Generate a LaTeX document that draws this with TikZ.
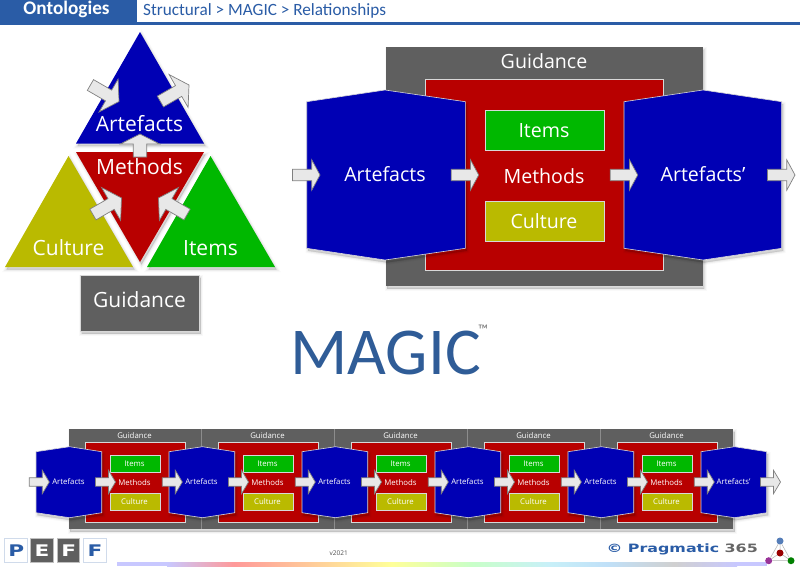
\documentclass[tikz,border=0pt]{standalone}
\usepackage{fontspec}
\setmainfont{Carlito}
\newfontfamily\lab{Open Sans}
\newfontfamily\heavy{DejaVu Sans}
\usetikzlibrary{calc}
\definecolor{hdr}{HTML}{2A5CA6}
\definecolor{mgc}{HTML}{2F5C97}
\definecolor{cblue}{HTML}{0000B4}
\definecolor{cred}{HTML}{B80000}
\definecolor{cgreen}{HTML}{00B800}
\definecolor{colive}{HTML}{BABA00}
\definecolor{cgrey}{HTML}{5F5F5F}
\definecolor{edge}{HTML}{D8D8D8}
\definecolor{g1}{HTML}{C8C8FF}
\definecolor{g2}{HTML}{FF9999}
\definecolor{g3}{HTML}{FFFF99}
\definecolor{g4}{HTML}{C8FFC8}
\definecolor{g5}{HTML}{C8F0F8}
\definecolor{g6}{HTML}{C0E0F8}
\definecolor{g7}{HTML}{D0D0D0}
\tikzset{
  softshadow/.style={
    preaction={fill=black,draw=black,line width=5pt,opacity=.025,transform canvas={shift={(1.5pt,-2.5pt)}}},
    preaction={fill=black,draw=black,line width=3pt,opacity=.04,transform canvas={shift={(1.5pt,-2.5pt)}}},
    preaction={fill=black,draw=black,line width=1pt,opacity=.06,transform canvas={shift={(1.5pt,-2.5pt)}}}},
  tribox/.style={softshadow,line join=miter},
  plate/.style={draw=edge,line width=.6pt},
  bigtxt/.style={text=white,font=\lab\fontsize{21}{25}\selectfont,inner sep=0pt},
  midtxt/.style={text=white,font=\lab\fontsize{19.6}{23}\selectfont,inner sep=0pt},
  smalltxt/.style={text=white,font=\lab\fontsize{7.8}{9}\selectfont,inner sep=0pt},
  barrowstyle/.style={fill=black!9,draw=black!50,line width=.7pt,line join=miter},
  logobox/.style={minimum width=22.5pt,minimum height=24pt,inner sep=0pt,line width=1pt,font=\heavy\bfseries\fontsize{16}{20}\selectfont},
  dotlogo/.style={circle,inner sep=0pt,minimum size=7pt}
}
\newcommand{\blockarrow}[7]{%
  \draw[barrowstyle,shift={(#1,#2)},rotate=#3] (0,0) -- (-#7,-#6) -- (-#7,-#5) -- (-#4,-#5) -- (-#4,#5) -- (-#7,#5) -- (-#7,#6) -- cycle;}
\newcommand{\hexshape}[8]{%
  \path[fill=cblue,#8] (#1,#5) -- (#2,#4) -- (#3,#5) -- (#3,#6) -- (#2,#7) -- (#1,#6) -- cycle;}
\newcommand{\barpiece}[4]{\shade[left color=#3,right color=#4] (#1,562.3) rectangle (#2,566);}
\begin{document}
\begin{tikzpicture}[x=1pt,y=-1pt]
\useasboundingbox (0,0) rectangle (800,566);
\fill[white] (0,0) rectangle (800,566);
% header
\fill[hdr] (0,0) rectangle (136.5,25);
\fill[hdr] (0,22) rectangle (800,25);
\node[text=white,font=\fontsize{19.2}{20}\selectfont\bfseries,inner sep=0pt] (hdrA) at (66.5,9) {Ontologies};
\node[anchor=west,text=hdr,font=\fontsize{17.2}{20}\selectfont,inner sep=0pt] (hdrB) at (143,11) {Structural > MAGIC > Relationships};
% triangle model
\path[fill=cblue,tribox] (140,32) -- (204,143.5) -- (76,143.5) -- cycle;
\path[fill=cred,tribox] (76,152) -- (204,152) -- (140,262) -- cycle;
\path[fill=colive,tribox] (68.5,156) -- (133,267) -- (5,267) -- cycle;
\path[fill=cgreen,tribox] (210.5,156) -- (275,267) -- (147,267) -- cycle;
\path[fill=cgrey,tribox,draw=edge,line width=.4pt] (80,275) rectangle (199,331);
\node[bigtxt] (tArt) at (139.5,124) {Artefacts};
\node[bigtxt] (tMet) at (139.5,167) {Methods};
\node[bigtxt] (tCul) at (68.5,248) {Culture};
\node[bigtxt] (tIte) at (210.5,248) {Items};
\node[bigtxt] (tGui) at (139.5,300) {Guidance};
\blockarrow{119}{101.5}{-30}{33}{6.2}{19}{12}
\blockarrow{189}{85}{30}{33}{6.2}{19}{12}
\blockarrow{140}{134}{90}{23}{6.7}{19.7}{10}
\blockarrow{121.5}{198}{30}{33}{6.2}{19}{12}
\blockarrow{158.5}{198}{150}{33}{6.2}{19}{12}
% big process
\path[fill=cgrey,tribox] (385.7,47.3) rectangle (702.7,286);
\path[fill=cred,plate] (425,79.3) rectangle (663.3,270);
\hexshape{306.7}{385}{465.3}{90}{101.7}{248.3}{260}{softshadow,plate}
\hexshape{624}{703}{781.7}{90}{101.7}{248.3}{260}{softshadow,plate}
\path[fill=cgreen,plate] (485,110.7) rectangle (604.3,150.7);
\path[fill=colive,plate] (485,201.3) rectangle (604.3,241.7);
\node[midtxt] (bGui) at (544,61) {Guidance};
\node[midtxt] (bArt) at (385,174.5) {Artefacts};
\node[midtxt] (bMet) at (544,176) {Methods};
\node[midtxt] (bIte) at (544,130.5) {Items};
\node[midtxt] (bCul) at (544,221) {Culture};
\node[midtxt] (bArp) at (703,174.5) {Artefacts’};
\blockarrow{320}{175}{0}{27.5}{5.7}{15.3}{8.3}
\blockarrow{478.7}{175}{0}{27.5}{5.7}{15.3}{8.3}
\blockarrow{637.7}{175}{0}{27.5}{5.7}{15.3}{8.3}
\blockarrow{795}{175}{0}{27.5}{5.7}{15.3}{8.3}
% MAGIC
\node[text=mgc,font=\fontsize{67}{72}\selectfont,inner sep=0pt] (mag) at (385.5,352.5) {MAGIC};
\node[text=black!55,font=\fontsize{14}{15}\selectfont,inner sep=0pt] (tm) at (483,330) {™};
% chain
\path[fill=cgrey,softshadow] (68.7,429.3) rectangle (733,529);
\foreach \k in {1,2,3,4} \draw[black!45,line width=.5pt] ({68+133*\k},429.3) -- ({68+133*\k},529);
\foreach \k in {0,...,4}{
  \path[fill=cred,plate] ({85.3+133*\k},442.7) rectangle ({185+133*\k},522.7);
  \path[fill=cgreen,plate] ({110+133*\k},455.7) rectangle ({160+133*\k},472.3);
  \path[fill=colive,plate] ({110+133*\k},493.3) rectangle ({160+133*\k},510);
  \node[smalltxt] (sG\k) at ({134.5+133*\k},436) {Guidance};
  \node[smalltxt] (sI\k) at ({134.5+133*\k},463.7) {Items};
  \node[smalltxt] (sM\k) at ({134.5+133*\k},483) {Methods};
  \node[smalltxt] (sC\k) at ({134.5+133*\k},501.5) {Culture};
}
\foreach \k in {0,...,5}{
  \pgfmathsetmacro{\xa}{36+133*\k}\pgfmathsetmacro{\xb}{69.5+133*\k}\pgfmathsetmacro{\xc}{101.7+133*\k}
  \hexshape{\xa}{\xb}{\xc}{446.7}{451.7}{512.7}{517.7}{softshadow,plate}
}
\foreach \k in {0,...,4} \node[smalltxt] (sA\k) at ({68.5+133*\k},482) {Artefacts};
\node[smalltxt] (sA5) at (733.5,482) {Artefacts’};
\foreach \k in {0,...,5}{
  \pgfmathsetmacro{\ta}{49.3+133*\k}\pgfmathsetmacro{\tb}{115.5+133*\k}
  \blockarrow{\ta}{482}{0}{20}{4.2}{11.7}{7}
  \blockarrow{\tb}{482}{0}{20}{4.2}{11.7}{7}
}
% footer
\node[logobox,draw=hdr!22,fill=white,text=hdr] (p1) at (16.2,550.7) {\scalebox{1.35}[1]{P}};
\node[logobox,draw=black!25,fill=cgrey,text=white] (p2) at (42,550.7) {\scalebox{1.35}[1]{E}};
\node[logobox,draw=black!25,fill=cgrey,text=white] (p3) at (68.7,550.7) {\scalebox{1.35}[1]{F}};
\node[logobox,draw=hdr!22,fill=white,text=hdr] (p4) at (95,550.7) {\scalebox{1.35}[1]{F}};
\node[text=black!70,font=\lab\fontsize{6.5}{8}\selectfont,inner sep=0pt] (ver) at (338.7,553) {v2021};
\node[anchor=east,inner sep=0pt,font=\heavy\bfseries\fontsize{11.5}{14}\selectfont] (prag) at (758,549) {\scalebox{1.38}[1]{\textcolor{hdr}{© Pragmatic} \textcolor{black!60}{365}}};
\fill[g1] (117,562.3) rectangle (167,566);
\barpiece{167}{234}{g1}{g2}
\barpiece{234}{391}{g2}{g3}
\barpiece{391}{472}{g3}{g4}
\barpiece{472}{548}{g4}{g5}
\barpiece{548}{607}{g5}{g6}
\barpiece{607}{674}{g6}{g7}
\barpiece{674}{737}{g7}{g1}
\fill[g1] (737,562.3) rectangle (767,566);
\node[dotlogo,fill=hdr!80] (d1) at (780,541) {};
\node[dotlogo,fill=red!60!black] (d2) at (780,553) {};
\node[dotlogo,fill=violet!80] (d3) at (768.7,560.7) {};
\node[dotlogo,fill=green!50!black] (d4) at (791,560.7) {};
\draw[black!30,line width=.5pt] (d1) -- (d3) -- (d4) -- (d1);
\draw[black!30,line width=.5pt] (d2) -- (d1) (d2) -- (d3) (d2) -- (d4);
\end{tikzpicture}
\end{document}
